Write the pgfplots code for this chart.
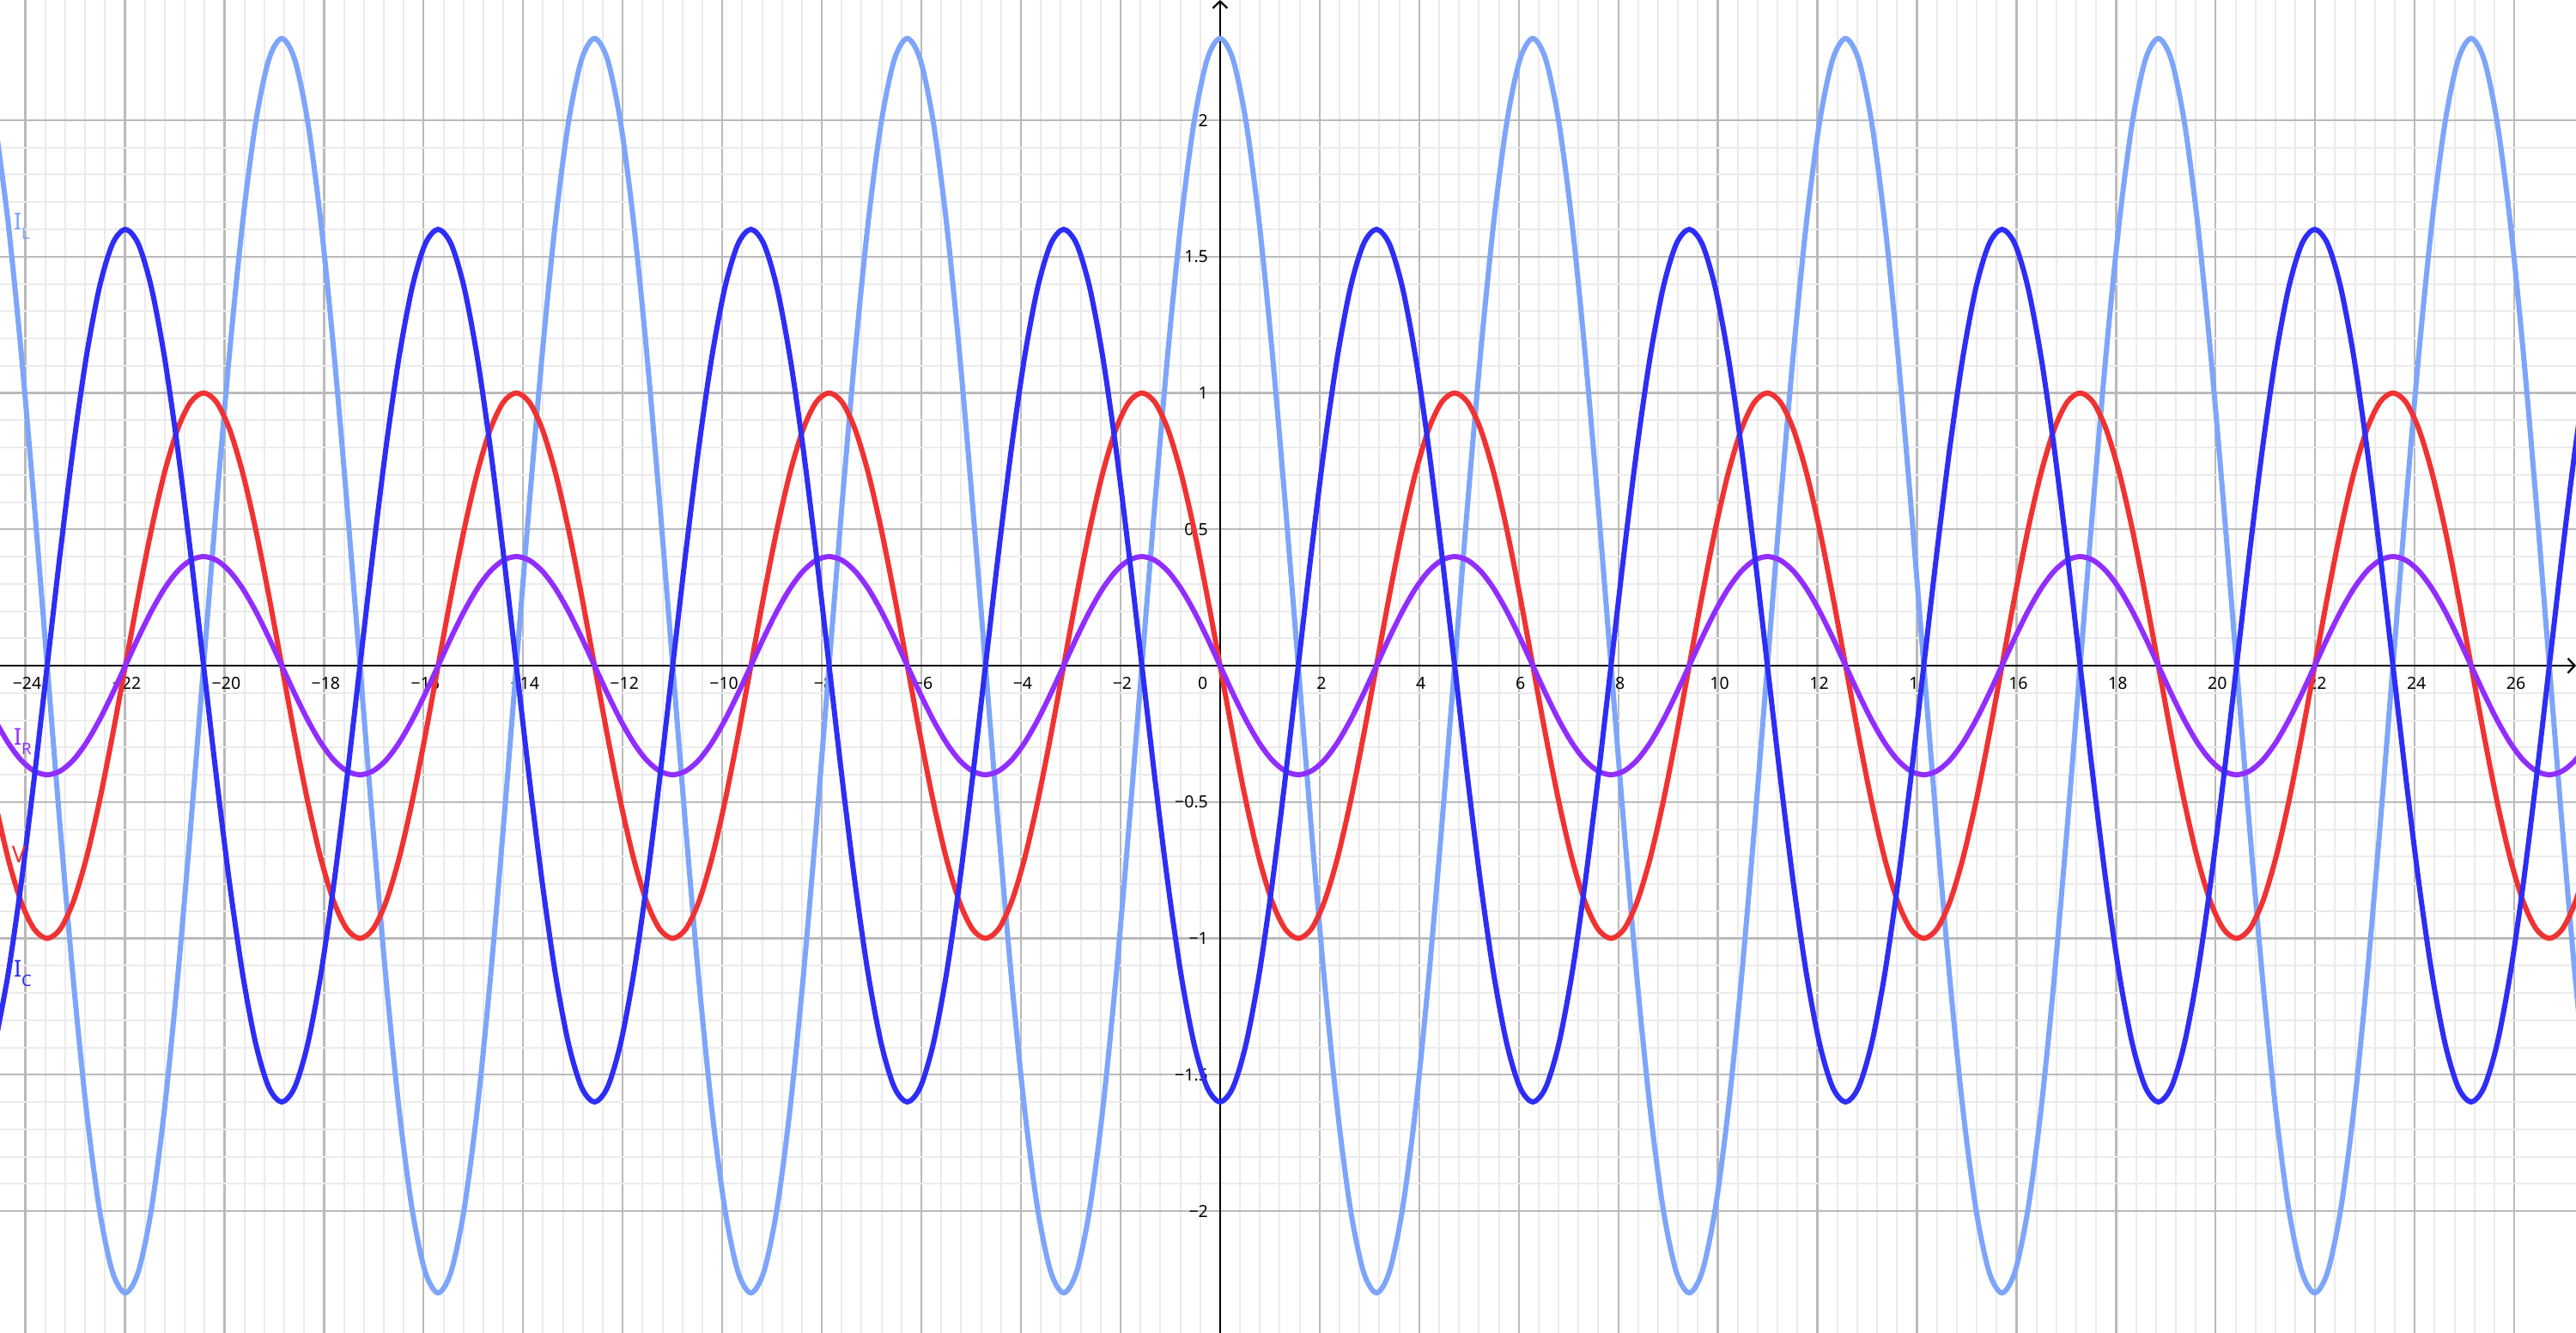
\documentclass[border=0pt]{standalone}
\usepackage{fontspec}
\setmainfont{Noto Sans}
\usepackage{pgfplots}
\usepackage{pgfplotstable}
\pgfplotsset{compat=1.18}
\usetikzlibrary{arrows.meta}

\definecolor{cV}{RGB}{240,50,50}
\definecolor{cIR}{RGB}{145,45,255}
\definecolor{cIC}{RGB}{45,45,245}
\definecolor{cIL}{RGB}{125,165,250}

\newcommand\ticklab{\fontsize{3.9}{4.5}\selectfont}
\newcommand\curvelab{\fontsize{5.4}{6}\selectfont}
\newcommand\sub[1]{\raisebox{-2.2pt}{\fontsize{3.7}{4}\selectfont #1}}

% samples every pi/12
\pgfplotstableread{
x        V        IR       IC       IL
-24.6091 -0.5    -0.2     -1.3856   1.9919
-24.3473 -0.7071 -0.2828  -1.1314   1.6263
-24.0855 -0.866  -0.3464  -0.8      1.15
-23.8237 -0.9659 -0.3864  -0.4141   0.5953
-23.5619 -1      -0.4      0        0
-23.3001 -0.9659 -0.3864   0.4141  -0.5953
-23.0383 -0.866  -0.3464   0.8     -1.15
-22.7765 -0.7071 -0.2828   1.1314  -1.6263
-22.5147 -0.5    -0.2      1.3856  -1.9919
-22.2529 -0.2588 -0.1035   1.5455  -2.2216
-21.9911  0       0        1.6     -2.3
-21.7293  0.2588  0.1035   1.5455  -2.2216
-21.4675  0.5     0.2      1.3856  -1.9919
-21.2058  0.7071  0.2828   1.1314  -1.6263
-20.9440  0.866   0.3464   0.8     -1.15
-20.6822  0.9659  0.3864   0.4141  -0.5953
-20.4204  1       0.4      0        0
-20.1586  0.9659  0.3864  -0.4141   0.5953
-19.8968  0.866   0.3464  -0.8      1.15
-19.6350  0.7071  0.2828  -1.1314   1.6263
-19.3732  0.5     0.2     -1.3856   1.9919
-19.1114  0.2588  0.1035  -1.5455   2.2216
-18.8496  0       0       -1.6      2.3
-18.5878 -0.2588 -0.1035  -1.5455   2.2216
-18.3260 -0.5    -0.2     -1.3856   1.9919
-18.0642 -0.7071 -0.2828  -1.1314   1.6263
-17.8024 -0.866  -0.3464  -0.8      1.15
-17.5406 -0.9659 -0.3864  -0.4141   0.5953
-17.2788 -1      -0.4      0        0
-17.0170 -0.9659 -0.3864   0.4141  -0.5953
-16.7552 -0.866  -0.3464   0.8     -1.15
-16.4934 -0.7071 -0.2828   1.1314  -1.6263
-16.2316 -0.5    -0.2      1.3856  -1.9919
-15.9698 -0.2588 -0.1035   1.5455  -2.2216
-15.7080  0       0        1.6     -2.3
-15.4462  0.2588  0.1035   1.5455  -2.2216
-15.1844  0.5     0.2      1.3856  -1.9919
-14.9226  0.7071  0.2828   1.1314  -1.6263
-14.6608  0.866   0.3464   0.8     -1.15
-14.3990  0.9659  0.3864   0.4141  -0.5953
-14.1372  1       0.4      0        0
-13.8754  0.9659  0.3864  -0.4141   0.5953
-13.6136  0.866   0.3464  -0.8      1.15
-13.3518  0.7071  0.2828  -1.1314   1.6263
-13.0900  0.5     0.2     -1.3856   1.9919
-12.8282  0.2588  0.1035  -1.5455   2.2216
-12.5664  0       0       -1.6      2.3
-12.3046 -0.2588 -0.1035  -1.5455   2.2216
-12.0428 -0.5    -0.2     -1.3856   1.9919
-11.7810 -0.7071 -0.2828  -1.1314   1.6263
-11.5192 -0.866  -0.3464  -0.8      1.15
-11.2574 -0.9659 -0.3864  -0.4141   0.5953
-10.9956 -1      -0.4      0        0
-10.7338 -0.9659 -0.3864   0.4141  -0.5953
-10.4720 -0.866  -0.3464   0.8     -1.15
-10.2102 -0.7071 -0.2828   1.1314  -1.6263
-9.9484  -0.5    -0.2      1.3856  -1.9919
-9.6866  -0.2588 -0.1035   1.5455  -2.2216
-9.4248   0       0        1.6     -2.3
-9.1630   0.2588  0.1035   1.5455  -2.2216
-8.9012   0.5     0.2      1.3856  -1.9919
-8.6394   0.7071  0.2828   1.1314  -1.6263
-8.3776   0.866   0.3464   0.8     -1.15
-8.1158   0.9659  0.3864   0.4141  -0.5953
-7.8540   1       0.4      0        0
-7.5922   0.9659  0.3864  -0.4141   0.5953
-7.3304   0.866   0.3464  -0.8      1.15
-7.0686   0.7071  0.2828  -1.1314   1.6263
-6.8068   0.5     0.2     -1.3856   1.9919
-6.5450   0.2588  0.1035  -1.5455   2.2216
-6.2832   0       0       -1.6      2.3
-6.0214  -0.2588 -0.1035  -1.5455   2.2216
-5.7596  -0.5    -0.2     -1.3856   1.9919
-5.4978  -0.7071 -0.2828  -1.1314   1.6263
-5.2360  -0.866  -0.3464  -0.8      1.15
-4.9742  -0.9659 -0.3864  -0.4141   0.5953
-4.7124  -1      -0.4      0        0
-4.4506  -0.9659 -0.3864   0.4141  -0.5953
-4.1888  -0.866  -0.3464   0.8     -1.15
-3.9270  -0.7071 -0.2828   1.1314  -1.6263
-3.6652  -0.5    -0.2      1.3856  -1.9919
-3.4034  -0.2588 -0.1035   1.5455  -2.2216
-3.1416   0       0        1.6     -2.3
-2.8798   0.2588  0.1035   1.5455  -2.2216
-2.6180   0.5     0.2      1.3856  -1.9919
-2.3562   0.7071  0.2828   1.1314  -1.6263
-2.0944   0.866   0.3464   0.8     -1.15
-1.8326   0.9659  0.3864   0.4141  -0.5953
-1.5708   1       0.4      0        0
-1.3090   0.9659  0.3864  -0.4141   0.5953
-1.0472   0.866   0.3464  -0.8      1.15
-0.7854   0.7071  0.2828  -1.1314   1.6263
-0.5236   0.5     0.2     -1.3856   1.9919
-0.2618   0.2588  0.1035  -1.5455   2.2216
 0        0       0       -1.6      2.3
 0.2618  -0.2588 -0.1035  -1.5455   2.2216
 0.5236  -0.5    -0.2     -1.3856   1.9919
 0.7854  -0.7071 -0.2828  -1.1314   1.6263
 1.0472  -0.866  -0.3464  -0.8      1.15
 1.3090  -0.9659 -0.3864  -0.4141   0.5953
 1.5708  -1      -0.4      0        0
 1.8326  -0.9659 -0.3864   0.4141  -0.5953
 2.0944  -0.866  -0.3464   0.8     -1.15
 2.3562  -0.7071 -0.2828   1.1314  -1.6263
 2.6180  -0.5    -0.2      1.3856  -1.9919
 2.8798  -0.2588 -0.1035   1.5455  -2.2216
 3.1416   0       0        1.6     -2.3
 3.4034   0.2588  0.1035   1.5455  -2.2216
 3.6652   0.5     0.2      1.3856  -1.9919
 3.9270   0.7071  0.2828   1.1314  -1.6263
 4.1888   0.866   0.3464   0.8     -1.15
 4.4506   0.9659  0.3864   0.4141  -0.5953
 4.7124   1       0.4      0        0
 4.9742   0.9659  0.3864  -0.4141   0.5953
 5.2360   0.866   0.3464  -0.8      1.15
 5.4978   0.7071  0.2828  -1.1314   1.6263
 5.7596   0.5     0.2     -1.3856   1.9919
 6.0214   0.2588  0.1035  -1.5455   2.2216
 6.2832   0       0       -1.6      2.3
 6.5450  -0.2588 -0.1035  -1.5455   2.2216
 6.8068  -0.5    -0.2     -1.3856   1.9919
 7.0686  -0.7071 -0.2828  -1.1314   1.6263
 7.3304  -0.866  -0.3464  -0.8      1.15
 7.5922  -0.9659 -0.3864  -0.4141   0.5953
 7.8540  -1      -0.4      0        0
 8.1158  -0.9659 -0.3864   0.4141  -0.5953
 8.3776  -0.866  -0.3464   0.8     -1.15
 8.6394  -0.7071 -0.2828   1.1314  -1.6263
 8.9012  -0.5    -0.2      1.3856  -1.9919
 9.1630  -0.2588 -0.1035   1.5455  -2.2216
 9.4248   0       0        1.6     -2.3
 9.6866   0.2588  0.1035   1.5455  -2.2216
 9.9484   0.5     0.2      1.3856  -1.9919
10.2102   0.7071  0.2828   1.1314  -1.6263
10.4720   0.866   0.3464   0.8     -1.15
10.7338   0.9659  0.3864   0.4141  -0.5953
10.9956   1       0.4      0        0
11.2574   0.9659  0.3864  -0.4141   0.5953
11.5192   0.866   0.3464  -0.8      1.15
11.7810   0.7071  0.2828  -1.1314   1.6263
12.0428   0.5     0.2     -1.3856   1.9919
12.3046   0.2588  0.1035  -1.5455   2.2216
12.5664   0       0       -1.6      2.3
12.8282  -0.2588 -0.1035  -1.5455   2.2216
13.0900  -0.5    -0.2     -1.3856   1.9919
13.3518  -0.7071 -0.2828  -1.1314   1.6263
13.6136  -0.866  -0.3464  -0.8      1.15
13.8754  -0.9659 -0.3864  -0.4141   0.5953
14.1372  -1      -0.4      0        0
14.3990  -0.9659 -0.3864   0.4141  -0.5953
14.6608  -0.866  -0.3464   0.8     -1.15
14.9226  -0.7071 -0.2828   1.1314  -1.6263
15.1844  -0.5    -0.2      1.3856  -1.9919
15.4462  -0.2588 -0.1035   1.5455  -2.2216
15.7080   0       0        1.6     -2.3
15.9698   0.2588  0.1035   1.5455  -2.2216
16.2316   0.5     0.2      1.3856  -1.9919
16.4934   0.7071  0.2828   1.1314  -1.6263
16.7552   0.866   0.3464   0.8     -1.15
17.0170   0.9659  0.3864   0.4141  -0.5953
17.2788   1       0.4      0        0
17.5406   0.9659  0.3864  -0.4141   0.5953
17.8024   0.866   0.3464  -0.8      1.15
18.0642   0.7071  0.2828  -1.1314   1.6263
18.3260   0.5     0.2     -1.3856   1.9919
18.5878   0.2588  0.1035  -1.5455   2.2216
18.8496   0       0       -1.6      2.3
19.1114  -0.2588 -0.1035  -1.5455   2.2216
19.3732  -0.5    -0.2     -1.3856   1.9919
19.6350  -0.7071 -0.2828  -1.1314   1.6263
19.8968  -0.866  -0.3464  -0.8      1.15
20.1586  -0.9659 -0.3864  -0.4141   0.5953
20.4204  -1      -0.4      0        0
20.6822  -0.9659 -0.3864   0.4141  -0.5953
20.9440  -0.866  -0.3464   0.8     -1.15
21.2058  -0.7071 -0.2828   1.1314  -1.6263
21.4675  -0.5    -0.2      1.3856  -1.9919
21.7293  -0.2588 -0.1035   1.5455  -2.2216
21.9911   0       0        1.6     -2.3
22.2529   0.2588  0.1035   1.5455  -2.2216
22.5147   0.5     0.2      1.3856  -1.9919
22.7765   0.7071  0.2828   1.1314  -1.6263
23.0383   0.866   0.3464   0.8     -1.15
23.3001   0.9659  0.3864   0.4141  -0.5953
23.5619   1       0.4      0        0
23.8237   0.9659  0.3864  -0.4141   0.5953
24.0855   0.866   0.3464  -0.8      1.15
24.3473   0.7071  0.2828  -1.1314   1.6263
24.6091   0.5     0.2     -1.3856   1.9919
24.8709   0.2588  0.1035  -1.5455   2.2216
25.1327   0       0       -1.6      2.3
25.3945  -0.2588 -0.1035  -1.5455   2.2216
25.6563  -0.5    -0.2     -1.3856   1.9919
25.9181  -0.7071 -0.2828  -1.1314   1.6263
26.1799  -0.866  -0.3464  -0.8      1.15
26.4417  -0.9659 -0.3864  -0.4141   0.5953
26.7035  -1      -0.4      0        0
26.9653  -0.9659 -0.3864   0.4141  -0.5953
27.2271  -0.866  -0.3464   0.8     -1.15
27.4889  -0.7071 -0.2828   1.1314  -1.6263
}\curves

\begin{document}
\begin{tikzpicture}
\begin{axis}[
  name=ax,
  scale only axis,
  width=600pt, height=310.4pt,
  xmin=-24.51, xmax=27.24,
  ymin=-2.447, ymax=2.441,
  axis lines=middle,
  axis line style={line width=0.45pt, -{Straight Barb[length=1.6pt,width=3.4pt]}},
  xtick={-24,-22,...,26},
  xticklabels={−24,−22,−20,−18,−16,−14,−12,−10,−8,−6,−4,−2,{},2,4,6,8,10,12,14,16,18,20,22,24,26},
  ytick={-2,-1.5,...,2},
  yticklabels={−2,−1.5,−1,−0.5,{},0.5,1,1.5,2},
  minor x tick num=4,
  minor y tick num=4,
  grid=both,
  major grid style={line width=0.45pt, color=black!27},
  minor grid style={line width=0.4pt, color=black!8},
  major tick length=0pt, minor tick length=0pt,
  xticklabel style={font=\ticklab, anchor=north, inner sep=0pt, yshift=-2.4pt, xshift=0.4pt},
  yticklabel style={font=\ticklab, anchor=east, inner sep=0pt, xshift=-2.6pt},
  every axis plot/.append style={line width=1.2pt, smooth},
]
\addplot[cIL] table[x=x, y=IL] {\curves};
\addplot[cV] table[x=x, y=V] {\curves};
\addplot[cIR] table[x=x, y=IR] {\curves};
\addplot[cIC] table[x=x, y=IC] {\curves};

\node[anchor=north east, inner sep=0pt, font=\ticklab, xshift=-2.7pt, yshift=-2.4pt] at (axis cs:0,0) {0};

\node[anchor=base west, inner sep=0pt, text=cIL, font=\curvelab] at (axis cs:-24.25,1.60) {I\sub{L}};
\node[anchor=base west, inner sep=0pt, text=cIR, font=\curvelab] at (axis cs:-24.25,-0.29) {I\sub{R}};
\node[anchor=base west, inner sep=0pt, text=cV, font=\curvelab] at (axis cs:-24.29,-0.724) {V};
\node[anchor=base west, inner sep=0pt, text=cIC, font=\curvelab] at (axis cs:-24.25,-1.143) {I\sub{C}};
\end{axis}
\pgfresetboundingbox
\path[use as bounding box] (ax.south west) rectangle (ax.north east);
\end{tikzpicture}
\end{document}
